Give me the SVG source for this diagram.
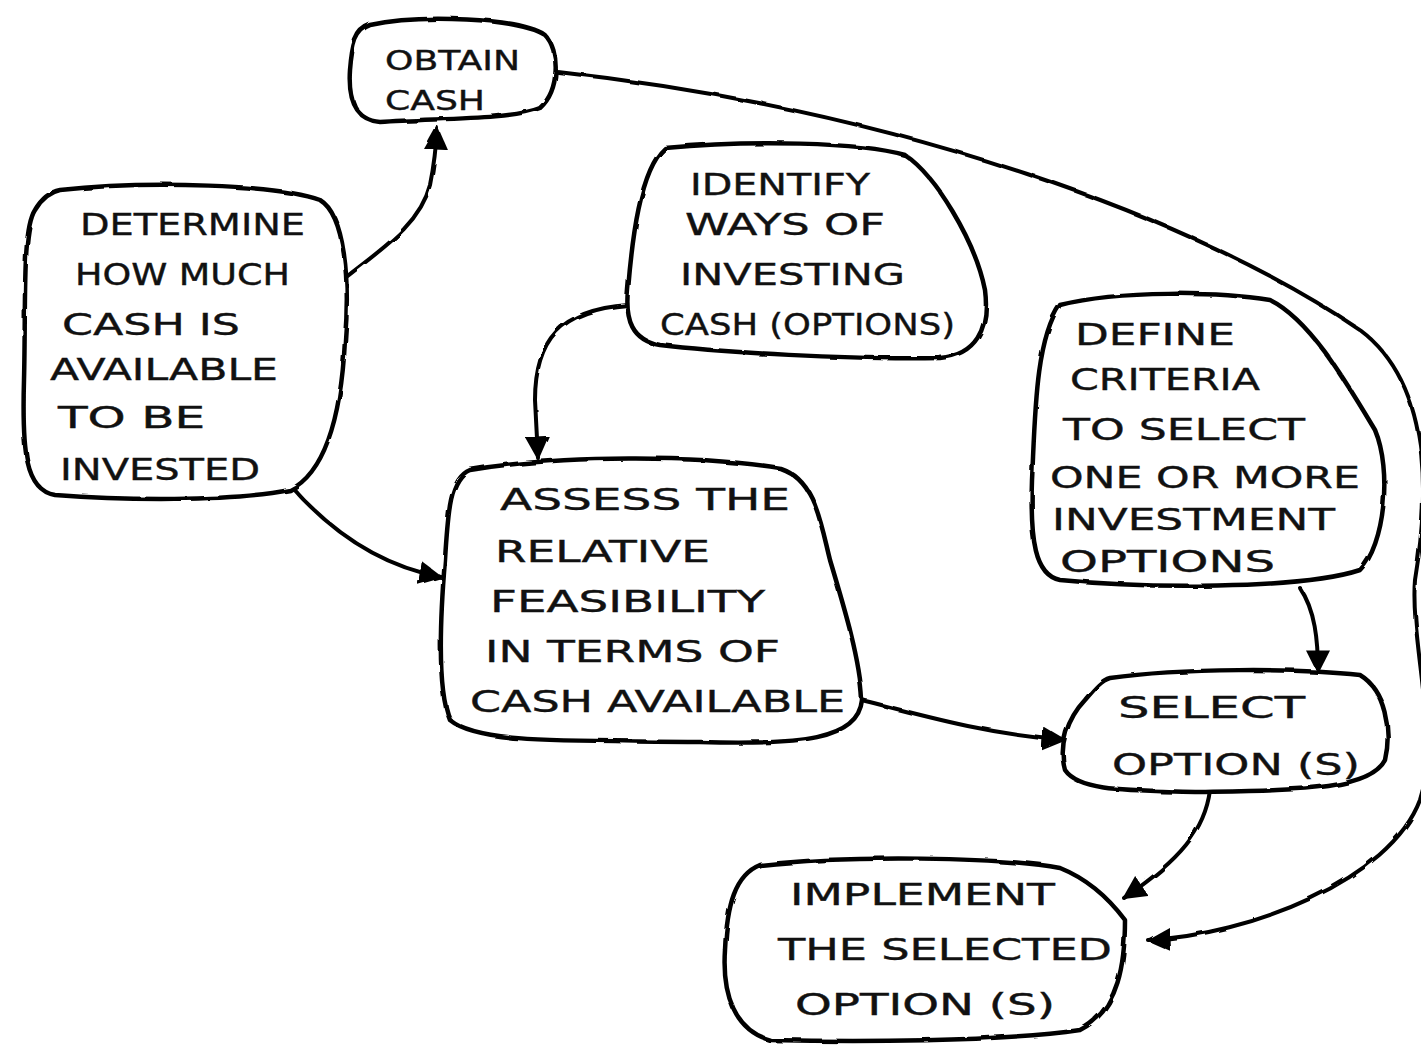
<svg xmlns="http://www.w3.org/2000/svg" width="1421" height="1048" viewBox="0 0 1421 1048">
<style>
.blob{fill:#fff;stroke:#000;stroke-width:4.5;stroke-linejoin:round}
.conn{fill:none;stroke:#000;stroke-width:4;stroke-linecap:round}
.t{font-family:"DejaVu Sans","Liberation Sans",sans-serif;font-size:31px;fill:#111;stroke:#111;stroke-width:0.4}
.ts{font-size:27px}
</style>
<defs>
<filter id="rough" x="-5%" y="-5%" width="110%" height="110%">
<feTurbulence type="fractalNoise" baseFrequency="0.04" numOctaves="2" seed="3"/>
<feDisplacementMap in="SourceGraphic" scale="3"/>
</filter>
<marker id="ah" viewBox="0 0 10 10" refX="9" refY="5" markerWidth="6" markerHeight="6" orient="auto" markerUnits="strokeWidth">
<path d="M0,0 L10,5 L0,10 Z" fill="#000"/>
</marker>
</defs>
<rect width="1421" height="1048" fill="#fff"/>

<g id="connectors" filter="url(#rough)">
<path class="conn" marker-end="url(#ah)" d="M345,278 C 380,250 420,225 430,185 C 434,165 436,150 437,128"/>
<path class="conn" marker-end="url(#ah)" d="M628,305 C 560,310 535,340 535,400 L 538,458"/>
<path class="conn" marker-end="url(#ah)" d="M290,485 C 325,525 375,565 441,577"/>
<path class="conn" marker-end="url(#ah)" d="M862,700 C 920,715 990,735 1064,740"/>
<path class="conn" marker-end="url(#ah)" d="M1300,588 C 1315,610 1318,640 1318,672"/>
<path class="conn" marker-end="url(#ah)" d="M1210,790 C 1205,830 1180,860 1124,898"/>
<path class="conn" marker-end="url(#ah)" d="M558,72 C 900,110 1200,220 1360,330 C 1440,390 1425,520 1415,580 C 1410,640 1440,740 1420,800 C 1390,880 1250,935 1148,940"/>
</g>

<g id="obtain-cash">
<path class="blob" filter="url(#rough)" d="M370,25 C 420,14 520,18 545,35 C 560,50 560,90 540,108 C 510,120 440,118 380,122 C 355,120 348,100 350,70 C 352,45 355,30 370,25 Z"/>
<text class="t ts" x="385" y="70" textLength="135" lengthAdjust="spacingAndGlyphs">OBTAIN</text>
<text class="t ts" x="385" y="110" textLength="100" lengthAdjust="spacingAndGlyphs">CASH</text>
</g>

<g id="determine">
<path class="blob" filter="url(#rough)" d="M60,190 C 150,180 280,185 320,200 C 345,215 350,280 345,340 C 342,400 330,470 290,490 C 230,502 120,500 55,495 C 25,490 22,450 24,380 C 26,300 22,230 35,210 C 42,198 50,192 60,190 Z"/>
<text class="t" x="80" y="235" textLength="225" lengthAdjust="spacingAndGlyphs">DETERMINE</text>
<text class="t" x="75" y="285" textLength="215" lengthAdjust="spacingAndGlyphs">HOW MUCH</text>
<text class="t" x="62" y="335" textLength="178" lengthAdjust="spacingAndGlyphs">CASH IS</text>
<text class="t" x="50" y="380" textLength="228" lengthAdjust="spacingAndGlyphs">AVAILABLE</text>
<text class="t" x="58" y="428" textLength="147" lengthAdjust="spacingAndGlyphs">TO BE</text>
<text class="t" x="60" y="480" textLength="200" lengthAdjust="spacingAndGlyphs">INVESTED</text>
</g>

<g id="identify">
<path class="blob" filter="url(#rough)" d="M665,148 C 750,140 860,142 905,155 C 935,175 975,240 985,290 C 990,330 975,355 940,358 C 850,360 720,352 660,345 C 632,340 625,320 628,290 C 632,240 640,170 665,148 Z"/>
<text class="t" x="690" y="195" textLength="180" lengthAdjust="spacingAndGlyphs">IDENTIFY</text>
<text class="t" x="685" y="235" textLength="200" lengthAdjust="spacingAndGlyphs">WAYS OF</text>
<text class="t" x="680" y="285" textLength="225" lengthAdjust="spacingAndGlyphs">INVESTING</text>
<text class="t" x="660" y="335" textLength="295" lengthAdjust="spacingAndGlyphs">CASH (OPTIONS)</text>
</g>

<g id="define">
<path class="blob" filter="url(#rough)" d="M1060,305 C 1120,290 1220,292 1270,300 C 1310,320 1345,380 1375,430 C 1392,470 1385,545 1360,570 C 1300,590 1140,588 1060,580 C 1035,575 1030,540 1032,480 C 1035,420 1035,340 1060,305 Z"/>
<text class="t" x="1075" y="345" textLength="160" lengthAdjust="spacingAndGlyphs">DEFINE</text>
<text class="t" x="1070" y="390" textLength="190" lengthAdjust="spacingAndGlyphs">CRITERIA</text>
<text class="t" x="1063" y="440" textLength="242" lengthAdjust="spacingAndGlyphs">TO SELECT</text>
<text class="t" x="1050" y="488" textLength="310" lengthAdjust="spacingAndGlyphs">ONE OR MORE</text>
<text class="t" x="1052" y="530" textLength="283" lengthAdjust="spacingAndGlyphs">INVESTMENT</text>
<text class="t" x="1060" y="572" textLength="215" lengthAdjust="spacingAndGlyphs">OPTIONS</text>
</g>

<g id="assess">
<path class="blob" filter="url(#rough)" d="M470,470 C 560,455 700,455 780,468 C 815,480 820,520 830,560 C 845,610 860,660 862,700 C 858,740 800,745 700,742 C 580,740 480,745 450,720 C 437,690 440,620 445,560 C 448,510 450,478 470,470 Z"/>
<text class="t" x="500" y="510" textLength="290" lengthAdjust="spacingAndGlyphs">ASSESS THE</text>
<text class="t" x="495" y="562" textLength="215" lengthAdjust="spacingAndGlyphs">RELATIVE</text>
<text class="t" x="490" y="612" textLength="275" lengthAdjust="spacingAndGlyphs">FEASIBILITY</text>
<text class="t" x="485" y="662" textLength="295" lengthAdjust="spacingAndGlyphs">IN TERMS OF</text>
<text class="t" x="470" y="712" textLength="375" lengthAdjust="spacingAndGlyphs">CASH AVAILABLE</text>
</g>

<g id="select">
<path class="blob" filter="url(#rough)" d="M1110,678 C 1180,668 1300,668 1360,675 C 1385,690 1392,730 1385,760 C 1370,790 1300,790 1200,792 C 1130,790 1080,792 1065,770 C 1058,745 1068,718 1085,700 C 1095,688 1102,680 1110,678 Z"/>
<text class="t" x="1118" y="718" textLength="187" lengthAdjust="spacingAndGlyphs">SELECT</text>
<text class="t" x="1112" y="775" textLength="248" lengthAdjust="spacingAndGlyphs">OPTION (S)</text>
</g>

<g id="implement">
<path class="blob" filter="url(#rough)" d="M760,865 C 850,855 1000,857 1060,868 C 1090,880 1110,900 1125,920 C 1125,960 1120,1010 1080,1030 C 1000,1042 850,1042 770,1040 C 735,1030 722,995 725,950 C 727,905 735,875 760,865 Z"/>
<text class="t" x="790" y="905" textLength="265" lengthAdjust="spacingAndGlyphs">IMPLEMENT</text>
<text class="t" x="778" y="960" textLength="334" lengthAdjust="spacingAndGlyphs">THE SELECTED</text>
<text class="t" x="795" y="1015" textLength="260" lengthAdjust="spacingAndGlyphs">OPTION (S)</text>
</g>
</svg>
